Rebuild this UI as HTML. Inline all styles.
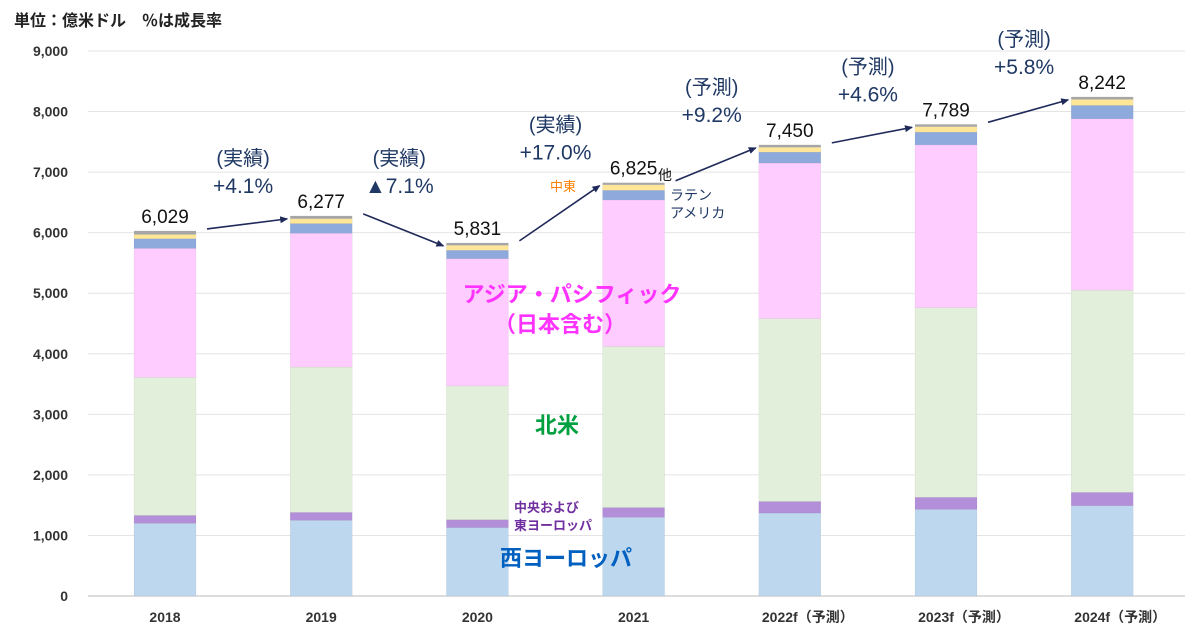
<!DOCTYPE html>
<html><head><meta charset="utf-8"><style>
body{margin:0;background:#fff;}
svg text{font-family:"Liberation Sans","Noto Sans CJK JP",sans-serif;}
</style></head><body>
<svg width="1200" height="630" id="chart">
<text x="14" y="26" font-size="16" font-weight="bold" fill="#222">単位：億米ドル　％は成長率</text>
</svg>
<script>
const categories=['2018','2019','2020','2021','2022f','2023f','2024f'];
const westEurope=[1200,1250,1130,1300,1370,1430,1490];
const centralEastEurope=[130,130,130,160,190,200,220];
const northAmerica=[2280,2400,2210,2660,3020,3130,3340];
const asiaPacific=[2130,2210,2100,2420,2570,2690,2830];
const latinAmerica=[160,160,140,160,180,210,220];
const middleEast=[70,80,80,90,80,90,100];
const totals=[6029,6277,5831,6825,7450,7789,8242];
const yTicks=[0,1000,2000,3000,4000,5000,6000,7000,8000,9000];
const growthTop=['(実績)','(実績)','(実績)','(予測)','(予測)','(予測)'];
const growthVal=['+4.1%','▲7.1%','+17.0%','+9.2%','+4.6%','+5.8%'];
const NS='http://www.w3.org/2000/svg';
const svg=document.getElementById('chart');
const y=v=>596-v*(545/9000);
const xc=i=>165+i*156.2;
const bw=62;
function mk(t,a,p){const e=document.createElementNS(NS,t);for(const k in a)e.setAttribute(k,a[k]);(p||svg).appendChild(e);return e;}
yTicks.forEach(t=>{
 if(t>0){const g=mk('line',{x1:88,x2:1185,y1:y(t),y2:y(t),stroke:'#e4e4e4','stroke-width':1});
 
 }
 const tx=mk('text',{x:68,y:y(t)+5,'font-size':14,'font-weight':'bold','text-anchor':'end',fill:'#333'});tx.textContent=t.toLocaleString('en-US');
 
 
});
const ax=mk('line',{x1:88,x2:1185,y1:596,y2:596,stroke:'#bbb'});


const series=[[westEurope,'#bdd7ee','west-europe'],[centralEastEurope,'#b48fd9','central-east-europe'],[northAmerica,'#e2efda','north-america'],[asiaPacific,'#ffccff','asia-pacific'],[latinAmerica,'#8eaadc','latin-america'],[middleEast,'#ffe699','middle-east']];
categories.forEach((c,i)=>{
 let acc=0;
 series.forEach(([arr,col,nm])=>{
  const r=mk('rect',{x:xc(i)-bw/2,y:y(acc+arr[i]),width:bw,height:y(acc)-y(acc+arr[i]),fill:col,stroke:'rgba(0,0,0,0.08)','stroke-width':0.5});
  
  
  acc+=arr[i];
 });
 const o=mk('rect',{x:xc(i)-bw/2,y:y(totals[i]),width:bw,height:Math.max(0,y(acc)-y(totals[i])),fill:'#a6a6a6'});
 
 
 const t=mk('text',{x:xc(i),y:y(totals[i])-8,'font-size':19,'text-anchor':'middle',fill:'#111'});t.textContent=totals[i].toLocaleString('en-US');
 
 
 const xl=mk('text',{x:xc(i)+(i>3?18:0),y:622,'font-size':14,'font-weight':'bold','text-anchor':'middle',fill:'#333'});
 xl.textContent=c+(i>3?'（予測）':'');
 
 
});
mk('defs',{}).innerHTML='<marker id="ah" markerWidth="8" markerHeight="7" refX="7" refY="3.5" orient="auto" markerUnits="userSpaceOnUse"><path d="M0,0 L8,3.5 L0,7 z" fill="#1f2a5a"/></marker>';
for(let i=0;i<6;i++){
 const a=mk('line',{x1:xc(i)+42,y1:y(totals[i])-2,x2:xc(i+1)-34,y2:y(totals[i+1])+3,stroke:'#1f2a5a','stroke-width':1.6,'marker-end':'url(#ah)'});
 
 
 const mx=(xc(i)+xc(i+1))/2, my=Math.min(y(totals[i]),y(totals[i+1]))-51;
 const t1=mk('text',{x:mx,y:my,'font-size':20,'text-anchor':'middle',fill:'#1f3864'});t1.textContent=growthTop[i];
 
 
 const t2=mk('text',{x:mx,y:my+28,'font-size':21,'text-anchor':'middle',fill:'#1f3864'});t2.textContent=growthVal[i];
 
 
}
const labels=[[572,302,'アジア・パシフィック','#ff33ff',22,'bold','middle'],[560,332,'（日本含む）','#ff33ff',22,'bold','middle'],[557,433,'北米','#00a040',22,'bold','middle'],[566,566,'西ヨーロッパ','#0060c0',22,'bold','middle'],[514,512,'中央および','#7030a0',13,'bold','start'],[514,530,'東ヨーロッパ','#7030a0',13,'bold','start'],[550,191,'中東','#ff8000',13,'normal','start'],[670,200,'ラテン','#1f3864',14,'normal','start'],[670,218,'アメリカ','#1f3864',14,'normal','start'],[658,180,'他','#111',14,'normal','start']];
labels.forEach(([x,yy,s,c,f,w,a])=>{const t=mk('text',{x:x,y:yy,'font-size':f,'font-weight':w,fill:c,'text-anchor':a});t.textContent=s;
 
 });
</script>
</body></html>
